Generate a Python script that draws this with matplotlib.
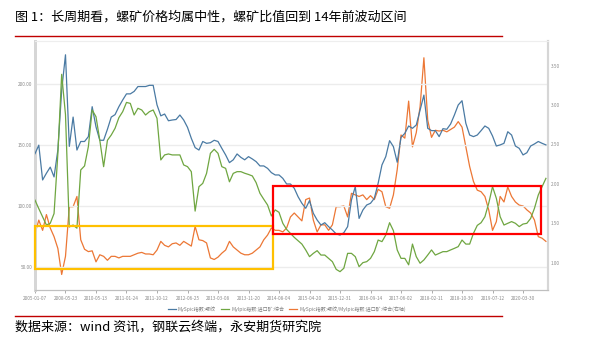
import numpy as np
import matplotlib
matplotlib.use("Agg")
import matplotlib.pyplot as plt
from matplotlib.lines import Line2D
from matplotlib.patches import Rectangle

plt.rcParams['font.family'] = ['Noto Sans CJK SC', 'DejaVu Sans']

## category axis labels (one every 8 points)
date_labels = ['2005-01-07', '2008-05-23', '2010-05-13', '2011-01-24', '2011-10-12',
               '2012-06-25', '2013-03-08', '2013-11-20', '2014-08-04', '2015-04-20',
               '2015-12-31', '2016-09-14', '2017-06-02', '2018-02-11', '2018-10-30',
               '2019-07-12', '2020-03-30']
label_step = 8

## MySpic rebar index (left axis)
rebar = [143, 150, 121.5, 127, 132, 124, 146, 195, 224, 149,
         173, 146, 153, 153, 157, 181.5, 165, 154, 154, 163,
         173, 175, 181.5, 187, 192, 192, 194, 198, 198, 198,
         199, 199, 183, 174, 175.5, 170, 170.6, 171, 174.7, 170.6,
         164.6, 155.6, 148, 146, 153, 151.5, 152, 154, 153, 147.4,
         142, 135.7, 138, 142.8, 140, 138, 140.6, 138.7, 136.5, 133,
         133, 131, 127.5, 125.6, 125.6, 122.8, 118.2, 118.2, 114.7, 107.8,
         102.4, 98.3, 104.6, 94.2, 88.7, 84.6, 86.5, 83.3, 80.5, 77.3,
         76.4, 78.3, 83.3, 105.1, 116, 90, 96.9, 101, 102.4, 106.5,
         118.8, 133.8, 140.6, 153.7, 148.8, 136, 156.4, 159.7, 165.7, 163.8,
         166.5, 178.8, 191, 163.8, 161.9, 161.9, 157, 163.5, 163, 167.3,
         174.7, 182.9, 186.4, 167.9, 158.3, 157, 158.3, 161.9, 165.7, 163.8,
         157.5, 149.3, 150.2, 151.5, 161, 158.3, 149.3, 147.4, 142, 143.8,
         149.3, 151, 153, 151.5, 150.2]

## Mylpic imported ore composite index (left axis)
ore = [105, 98, 91.4, 84.6, 86, 94, 143, 208, 175, 83,
       84.6, 82, 129.7, 133, 148.8, 178.8, 173.3, 154, 132.4, 154,
       158.3, 163.8, 172.5, 177.4, 185, 184.2, 174.7, 180.2, 178.8, 174.7,
       177.4, 178.8, 172, 137.9, 142, 142.8, 142, 142, 142, 133.8,
       132.4, 128.3, 96, 116, 118.7, 126.9, 143.3, 146.6, 143.3, 132.4,
       131, 120, 126.9, 128.3, 128.3, 127, 126, 124.8, 119.3, 110.6,
       105.7, 101, 92, 97, 95, 86, 81, 77.8, 74.5, 71.8,
       69, 64.2, 58.7, 61.4, 63.6, 60, 60, 57.3, 54.6, 48.3,
       46.4, 49.2, 61.4, 61.4, 58.7, 50.5, 53.8, 54.6, 57.3, 62.8,
       72.3, 71, 76.4, 86.5, 80, 64.2, 57.3, 57.3, 52, 69,
       58.7, 53.3, 56, 60, 64.2, 60, 61.4, 62.8, 62.8, 64.2,
       65.5, 66.9, 72.3, 69, 69, 77.8, 84.3, 86.5, 91.4, 102.4,
       116, 106.5, 91.4, 84.6, 86, 87.4, 86, 83.3, 85.4, 86,
       90, 98.3, 109.2, 116, 122.8]

## rebar / ore ratio (right axis)
ratio = [1.37, 1.54, 1.41, 1.61, 1.44, 1.33, 1.18, 0.85, 1.08, 1.71,
         1.71, 1.84, 1.29, 1.17, 1.14, 1.15, 1.01, 1.10, 1.08, 1.03,
         1.08, 1.08, 1.06, 1.08, 1.08, 1.08, 1.10, 1.12, 1.13, 1.11,
         1.11, 1.10, 1.16, 1.27, 1.22, 1.20, 1.24, 1.25, 1.22, 1.27,
         1.24, 1.21, 1.46, 1.29, 1.28, 1.25, 1.06, 1.04, 1.07, 1.12,
         1.16, 1.27, 1.20, 1.16, 1.12, 1.10, 1.10, 1.12, 1.16, 1.20,
         1.29, 1.35, 1.44, 1.41, 1.41, 1.39, 1.44, 1.58, 1.63, 1.58,
         1.53, 1.80, 1.82, 1.54, 1.39, 1.48, 1.48, 1.41, 1.48, 1.71,
         1.71, 1.72, 1.58, 1.88, 1.86, 1.84, 1.86, 1.80, 1.85, 1.80,
         1.93, 1.90, 1.71, 1.69, 1.86, 2.18, 2.62, 2.58, 3.05, 2.47,
         2.65, 2.98, 3.60, 2.81, 2.59, 2.68, 2.67, 2.68, 2.66, 2.69,
         2.72, 2.79, 2.72, 2.47, 2.22, 2.03, 1.92, 1.90, 1.84, 1.67,
         1.41, 1.52, 1.84, 1.77, 1.96, 1.84, 1.77, 1.73, 1.72, 1.67,
         1.63, 1.54, 1.33, 1.31, 1.27]

series_names = ['MySpic指数:螺纹', 'Mylpic指数:进口矿:综合',
                'MySpic指数:螺纹/Mylpic指数:进口矿:综合(右轴)']

## highlighted ranges: (x start, x end, y low, y high) in left-axis units
box_early = (0, 62.4, 48.6, 83.8)
box_recent = (62.4, 132.7, 77.5, 116.6)

C_BLUE, C_GREEN, C_ORANGE = '#4a7aa3', '#6fa641', '#ec7735'
TICK_C = '#8c8c8c'

fig = plt.figure(figsize=(5.89, 3.48), dpi=100)
ax = fig.add_axes([0.0594, 0.1667, 0.8710, 0.7155])
ax2 = ax.twinx()

x = np.arange(len(rebar))
l1, = ax.plot(x, rebar, color=C_BLUE, lw=0.9, zorder=3)
l2, = ax.plot(x, ore, color=C_GREEN, lw=0.9, zorder=3)
l3, = ax2.plot(x, ratio, color=C_ORANGE, lw=0.9, zorder=3)

ax.set_xlim(0, len(rebar) - 0.45)
ax.set_ylim(31.4, 235.3)
ax2.set_ylim(0.653, 3.813)

ax.set_yticks([50, 100, 150, 200])
ax.set_yticklabels(['{:.2f}'.format(v) for v in [50, 100, 150, 200]])
ax2.set_yticks([1.0, 1.5, 2.0, 2.5, 3.0, 3.5])
ax2.set_yticklabels(['{:.2f}'.format(v) for v in [1.0, 1.5, 2.0, 2.5, 3.0, 3.5]])
ax.set_xticks(np.arange(len(date_labels)) * label_step)
ax.set_xticklabels(date_labels)

ax.yaxis.grid(True, color='#ececec', lw=1)
ax.set_axisbelow(True)
for a in (ax, ax2):
    a.tick_params(labelsize=3.4, colors=TICK_C, length=2, width=0.5, pad=2)
    a.spines['top'].set_color('#eeeeee')
    a.spines['bottom'].set_color('#bfbfbf')
    a.spines['left'].set_color('#d6d6d6')
    a.spines['left'].set_linewidth(2)
    a.spines['right'].set_color('#d6d6d6')
    a.spines['right'].set_linewidth(1.5)
ax.tick_params(axis='y', length=0)
ax2.tick_params(axis='y', length=0)

## highlight boxes
for (x0, x1, y0, y1), col in [(box_early, '#ffc000'), (box_recent, '#ff0000')]:
    ax.add_patch(Rectangle((x0, y0), x1 - x0, y1 - y0, fill=False,
                           edgecolor=col, lw=1.6, zorder=6, clip_on=False))
ax.set_zorder(ax2.get_zorder() + 1)
ax.patch.set_visible(False)

fig.legend([l1, l2, l3], series_names, loc='center', ncol=3,
           bbox_to_anchor=(0.487, 0.112), frameon=False, fontsize=3.6,
           handlelength=1.6, handletextpad=0.4, columnspacing=1.0,
           labelcolor='#7f7f7f')

## title, footer and rules
fig.text(15 / 589, 1 - 17 / 348, '图 1：长周期看，螺矿价格均属中性，螺矿比值回到 14年前波动区间',
         fontsize=9.4, va='center', ha='left', color='black')
fig.text(15 / 589, 1 - 327 / 348, '数据来源：wind 资讯，钢联云终端，永安期货研究院',
         fontsize=9.4, va='center', ha='left', color='black')
for y in (36, 316):
    fig.add_artist(Line2D([15 / 589, 502 / 589], [1 - y / 348] * 2,
                          color='#c00000', lw=1))

fig.savefig('out.png', dpi=100)
